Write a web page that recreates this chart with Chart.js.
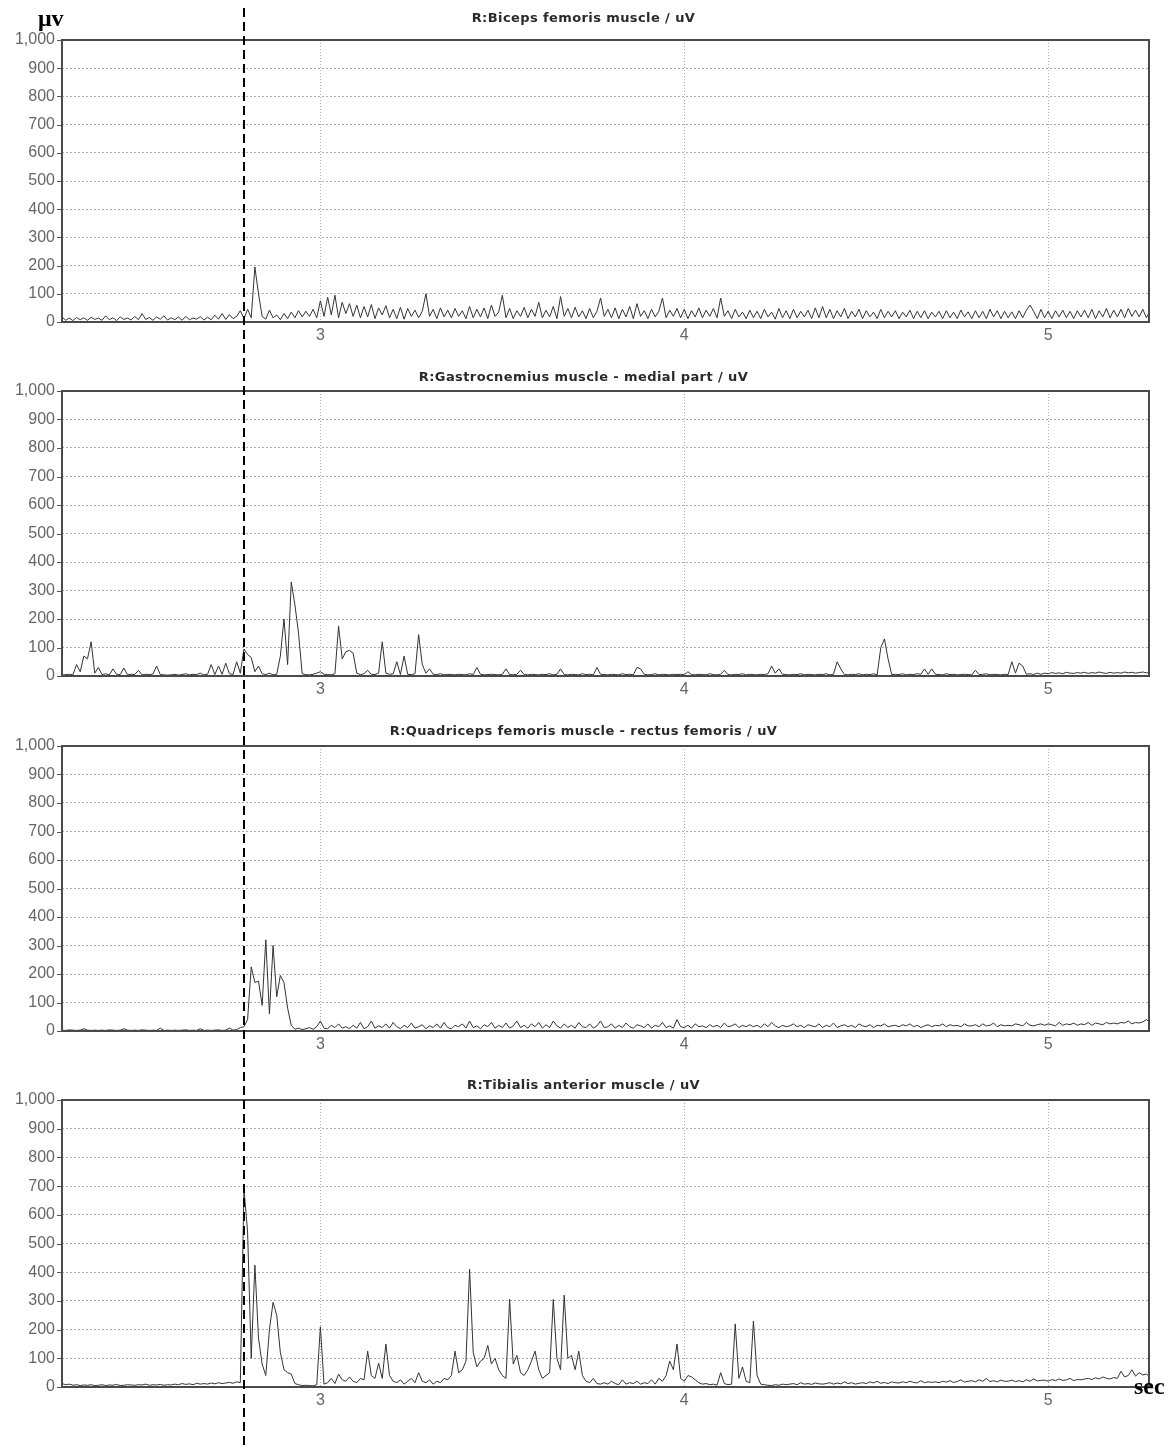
<!DOCTYPE html>
<html><head><meta charset="utf-8">
<script src="https://cdn.jsdelivr.net/npm/chart.js@4.4.1/dist/chart.umd.min.js"></script>
<style>
html,body{margin:0;padding:0;background:#fff;}
body{width:1174px;height:1446px;position:relative;overflow:hidden;}
canvas{position:absolute;left:0;}
.lbl{position:absolute;z-index:3;font-family:"Liberation Serif","Times New Roman",serif;font-weight:bold;color:#000;line-height:1;}
</style></head><body>
<canvas id="c1" width="1174" height="358" style="top:0px"></canvas>
<canvas id="c2" width="1174" height="355" style="top:358px"></canvas>
<canvas id="c3" width="1174" height="354" style="top:713px"></canvas>
<canvas id="c4" width="1174" height="379" style="top:1067px"></canvas>
<div class="lbl" style="left:38px;top:6px;font-size:24px">μv</div>
<div class="lbl" style="left:1134px;top:1374px;font-size:24px">sec</div>
<script>
// ---- data (µV, sampled every 0.01 s starting at 2.29 s) ----
const T_START = 2.29;
const T_STEP = 0.01;
const X_MIN = 2.29;
const X_MAX = 5.277;
const EVENT_T = 2.79;
const xTicks = [3, 4, 5];
const yTicks = [0, 100, 200, 300, 400, 500, 600, 700, 800, 900, 1000];
const titles = [
  "R:Biceps femoris muscle / uV",
  "R:Gastrocnemius muscle - medial part / uV",
  "R:Quadriceps femoris muscle - rectus femoris / uV",
  "R:Tibialis anterior muscle / uV"
];
const biceps = [
 18,6,14,5,16,8,15,6,17,9,
 14,6,22,8,15,5,18,9,14,7,
 20,8,30,9,16,6,18,10,22,7,
 15,8,18,6,20,8,14,10,19,7,
 17,8,24,10,30,9,26,12,20,40,
 12,45,15,195,100,20,10,42,15,25,
 8,30,12,35,15,40,18,38,20,45,
 15,75,20,88,25,95,15,70,30,65,
 20,60,15,55,18,62,12,50,25,58,
 15,45,12,52,10,48,20,42,15,38,
 100,20,45,12,50,18,42,15,48,20,
 40,12,55,15,45,18,50,12,60,20,
 35,95,15,48,12,40,20,52,15,45,
 20,70,15,42,18,55,12,90,20,48,
 15,52,18,40,12,48,15,38,85,20,
 45,15,50,12,45,18,55,12,65,20,
 40,12,45,18,38,85,15,42,20,48,
 15,45,12,40,18,50,15,42,20,48,
 15,85,20,40,12,45,18,35,12,42,
 15,38,12,45,18,35,10,48,15,40,
 12,45,15,38,18,42,12,50,15,55,
 15,45,12,40,18,48,12,38,18,45,
 12,40,18,35,12,45,15,38,18,40,
 12,35,18,42,12,38,15,40,12,35,
 18,38,12,40,15,35,12,42,18,36,
 12,40,15,38,12,45,18,40,12,38,
 15,36,12,40,15,42,60,38,12,45,
 15,38,12,40,18,42,15,38,12,40,
 18,42,15,45,12,40,18,48,15,42,
 18,45,15,48,20,42,18,45,15,40
];
const gastrocnemius = [
 3,5,6,4,40,15,70,60,120,10,
 30,5,8,4,25,6,5,28,4,6,
 5,20,4,6,5,7,35,5,4,3,
 4,6,3,5,8,4,6,5,10,4,
 6,40,5,35,6,45,8,5,50,10,
 95,75,65,15,35,8,5,10,4,6,
 70,200,40,330,250,150,8,5,4,6,
 10,15,6,5,4,8,175,60,85,90,
 80,10,5,8,20,6,5,10,120,10,
 6,8,50,5,70,6,5,8,145,40,
 10,25,6,5,8,4,6,5,4,6,
 5,4,8,5,30,6,4,5,6,5,
 4,6,25,5,4,6,20,5,4,6,
 5,4,6,5,8,4,6,25,5,4,
 6,5,4,8,5,6,4,30,6,5,
 4,6,5,4,8,5,6,4,30,25,
 6,4,5,8,4,6,5,4,6,5,
 6,4,15,5,4,6,5,4,8,5,
 4,6,20,5,4,6,5,8,4,6,
 5,4,6,5,8,35,10,25,6,5,
 4,6,5,8,4,6,5,4,6,5,
 8,4,6,50,25,5,4,6,5,8,
 4,6,5,8,4,100,130,60,5,6,
 5,8,4,6,5,8,6,25,6,25,
 6,5,4,8,5,6,4,5,6,5,
 4,20,5,6,8,4,6,5,4,6,
 5,50,10,45,35,6,8,5,10,6,
 10,8,12,9,11,8,13,10,9,12,
 10,13,9,12,10,14,11,9,13,10,
 12,10,14,11,13,10,12,14,11,13
];
const quadriceps = [
 3,2,4,3,2,3,8,3,2,3,
 2,3,2,4,3,2,3,8,3,2,
 3,2,4,3,2,3,2,10,2,3,
 2,3,2,3,4,2,3,2,8,2,
 3,2,3,4,2,3,10,3,5,12,
 15,40,225,170,175,90,320,60,300,120,
 195,170,80,20,6,10,5,8,12,6,
 15,35,10,8,20,12,25,10,15,8,
 20,10,30,8,15,35,10,18,12,25,
 10,30,15,8,20,12,28,10,15,22,
 8,18,12,25,10,30,12,8,20,15,
 25,10,35,12,18,8,22,15,30,10,
 20,12,28,10,18,35,12,20,10,25,
 15,30,10,22,12,35,18,10,25,12,
 20,10,30,15,12,25,10,18,35,12,
 15,25,10,20,12,28,15,10,22,18,
 12,25,10,20,15,30,12,18,10,40,
 15,12,20,10,25,15,18,12,22,15,
 20,12,28,15,18,25,12,20,15,22,
 15,20,12,25,15,30,18,12,20,15,
 18,25,15,20,12,22,18,15,25,12,
 20,15,28,12,18,22,15,20,12,25,
 18,15,22,12,20,18,25,15,18,20,
 15,22,18,25,15,20,12,18,22,15,
 20,18,25,15,22,18,20,15,25,18,
 18,22,15,25,18,20,28,15,22,18,
 20,18,25,22,18,30,20,18,22,25,
 20,25,22,18,30,20,25,22,28,20,
 25,22,30,20,28,25,22,30,25,28,
 25,30,28,35,25,30,28,32,40,30
];
const tibialis = [
 12,8,10,6,8,5,7,6,8,5,
 6,8,5,7,6,9,5,6,8,7,
 6,8,7,10,6,8,7,9,6,8,
 7,10,8,12,9,11,8,13,10,12,
 10,14,11,15,12,14,16,13,18,15,
 690,540,100,425,170,80,40,200,295,250,
 120,60,50,45,12,8,5,6,5,4,
 8,210,10,15,30,12,45,25,20,35,
 20,15,30,25,125,40,30,83,30,150,
 40,20,15,25,10,20,30,15,50,20,
 15,25,10,20,15,30,25,40,125,50,
 60,90,410,120,70,90,100,145,80,100,
 60,40,30,305,80,110,50,40,60,90,
 125,60,30,40,50,305,100,60,320,100,
 110,60,125,40,20,15,30,12,10,15,
 10,20,12,8,25,10,15,12,20,10,
 15,12,25,10,30,20,40,90,60,150,
 30,20,40,35,25,15,10,12,8,10,
 6,50,12,8,10,220,30,70,20,15,
 230,40,10,8,6,5,8,6,10,8,
 10,12,8,15,10,12,9,14,11,10,
 12,15,10,14,11,18,12,15,10,13,
 15,12,18,14,20,13,16,12,18,15,
 14,18,15,20,16,14,22,15,18,16,
 18,15,20,17,22,16,19,25,17,20,
 22,18,25,20,30,19,22,18,24,20,
 20,24,19,22,18,25,20,28,21,23,
 24,20,26,22,28,23,25,30,22,26,
 25,28,30,26,32,28,35,30,28,33,
 30,55,35,40,60,38,50,42,45,35
];

// ---- styling ----
const LINE_COLOR = '#333333';
const GRID_COLOR = 'rgba(150,150,160,0.8)';
const TICK_FONT = { family: '"Liberation Sans", Arial, sans-serif', size: 16 };

function toPoints(vals) {
  return vals.map((v, i) => ({ x: +(T_START + i * T_STEP).toFixed(2), y: v }));
}

const deco = {
  id: 'panelDeco',
  afterDraw(chart, args, o) {
    const { ctx, chartArea: a, scales: { x, y } } = chart;
    ctx.save();
    // y tick marks
    ctx.strokeStyle = '#555';
    ctx.lineWidth = 1;
    yTicks.forEach(v => {
      const py = Math.round(y.getPixelForValue(v)) + 0.5;
      ctx.beginPath(); ctx.moveTo(a.left - 5, py); ctx.lineTo(a.left, py); ctx.stroke();
    });
    // frame
    ctx.strokeStyle = '#4a4a4a';
    ctx.lineWidth = 2;
    ctx.strokeRect(a.left, a.top, a.right - a.left, a.bottom - a.top);
    // title
    ctx.fillStyle = '#2a2a2a';
    ctx.font = 'bold 13px "DejaVu Sans", Verdana, sans-serif';
    if ('letterSpacing' in ctx) ctx.letterSpacing = '0.4px';
    ctx.textAlign = 'center';
    ctx.textBaseline = 'middle';
    ctx.fillText(o.title, (a.left + a.right) / 2 - 22, a.top - o.titleGap);
    if ('letterSpacing' in ctx) ctx.letterSpacing = '0px';
    // event marker
    const ex = Math.round(x.getPixelForValue(EVENT_T));
    ctx.strokeStyle = '#000';
    ctx.lineWidth = 2;
    ctx.setLineDash([9, 5]);
    ctx.lineDashOffset = o.dashOffset;
    ctx.beginPath(); ctx.moveTo(ex, o.lineTop); ctx.lineTo(ex, chart.height); ctx.stroke();
    ctx.restore();
  }
};

function makeChart(id, values, title, o) {
  return new Chart(document.getElementById(id), {
    type: 'line',
    data: { datasets: [{ data: toPoints(values), borderColor: LINE_COLOR, borderWidth: 1, pointRadius: 0, tension: 0, fill: false }] },
    options: {
      responsive: false, maintainAspectRatio: false, animation: false, events: [],
      layout: { padding: { left: 0, right: 25, top: o.top, bottom: 0 } },
      plugins: {
        legend: { display: false }, tooltip: { enabled: false }, title: { display: false },
        panelDeco: { title: title, titleGap: o.titleGap, lineTop: o.lineTop, dashOffset: o.dashOffset }
      },
      scales: {
        x: {
          type: 'linear', min: X_MIN, max: X_MAX,
          afterBuildTicks: s => { s.ticks = xTicks.map(v => ({ value: v })); },
          afterFit: s => { s.height = o.xh; },
          grid: { color: GRID_COLOR, lineWidth: 1, drawTicks: false },
          border: { display: false, dash: [1, 2] },
          ticks: { color: '#666', font: TICK_FONT, padding: 4, maxRotation: 0, autoSkip: false, callback: v => String(v) }
        },
        y: {
          min: 0, max: 1000,
          afterBuildTicks: s => { s.ticks = yTicks.map(v => ({ value: v })); },
          afterFit: s => { s.width = 62; },
          grid: { color: GRID_COLOR, lineWidth: 1, drawTicks: false },
          border: { display: false, dash: [2, 2] },
          ticks: { color: '#666', font: TICK_FONT, padding: 7, autoSkip: false, callback: v => v.toLocaleString('en-US') }
        }
      }
    },
    plugins: [deco]
  });
}

makeChart('c1', biceps, titles[0], { top: 40, xh: 36, titleGap: 21, lineTop: 8, dashOffset: 0 });
makeChart('c2', gastrocnemius, titles[1], { top: 33, xh: 37, titleGap: 13, lineTop: 0, dashOffset: 350 });
makeChart('c3', quadriceps, titles[2], { top: 33, xh: 36, titleGap: 14, lineTop: 0, dashOffset: 705 });
makeChart('c4', tibialis, titles[3], { top: 33, xh: 59, titleGap: 14, lineTop: 0, dashOffset: 1059 });
</script>
</body></html>
